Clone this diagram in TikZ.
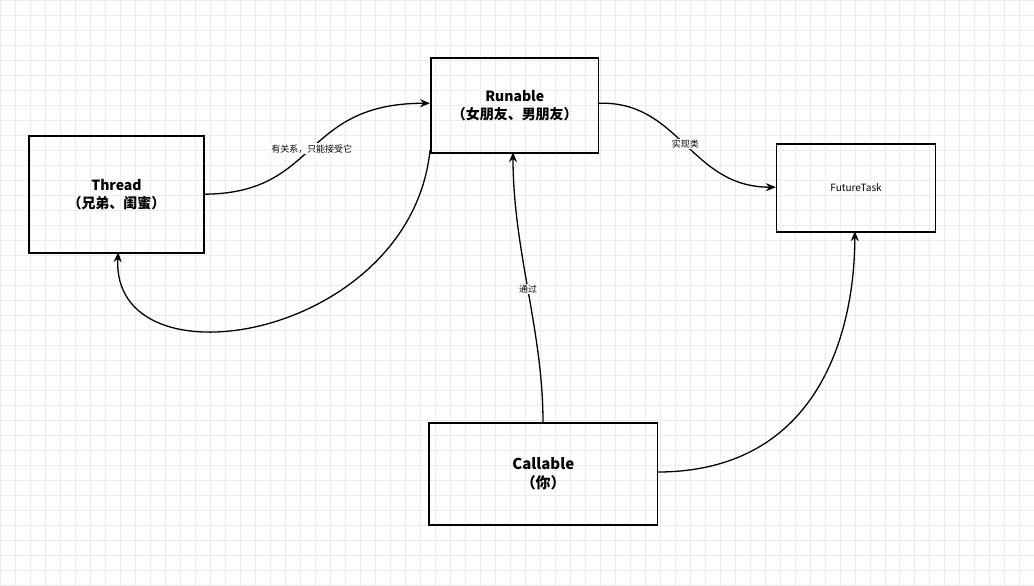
\documentclass[tikz,border=0pt]{standalone}
\usepackage{fontspec}
\setmainfont{Noto Sans CJK SC}
\usetikzlibrary{arrows.meta}
\begin{document}
\begin{tikzpicture}[x=1pt,y=-1pt,
  box/.style={draw,line width=1.5pt,inner sep=0,anchor=north west},
  conn/.style={line width=1.3pt,-{Stealth[length=10pt,width=8pt]}},
  lbl/.style={fill=white,font=\fontsize{9}{10}\selectfont,inner sep=1pt}]
\fill[white] (0,0) rectangle (1034,585);
\foreach \i in {0,15,...,1034} {\draw[black!8,line width=0.6pt] (\i,0) -- (\i,585);}
\foreach \j in {0,15,...,585} {\draw[black!8,line width=0.6pt] (0,\j) -- (1034,\j);}
\useasboundingbox (0,0) rectangle (1034,585);
\node[box,minimum width=175,minimum height=117,align=center,font=\bfseries\fontsize{14}{18}\selectfont] (thread) at (28,135) {Thread\\（兄弟、闺蜜）};
\node[box,minimum width=168,minimum height=95,align=center,font=\bfseries\fontsize{14}{18}\selectfont] (run) at (430,57) {Runable\\（女朋友、男朋友）};
\node[box,minimum width=159,minimum height=88,font=\fontsize{10}{12}\selectfont] (ft) at (776,143) {FutureTask};
\node[box,minimum width=229,minimum height=102,align=center,font=\bfseries\fontsize{15}{19}\selectfont] (call) at (428,422) {Callable\\（你）};
\coordinate (t1) at (203,194);
\coordinate (r1) at (430,103);
\coordinate (r2) at (430,150);
\coordinate (t2) at (118,252);
\coordinate (r3) at (598,103);
\coordinate (f1) at (776,187);
\coordinate (c1) at (543,422);
\coordinate (r4) at (513,152);
\coordinate (c2) at (657,472);
\coordinate (f2) at (855,231);
\draw[conn] (t1) .. controls (320,194) and (300,103) .. (r1) node[lbl,pos=0.5] {有关系，只能接受它};
\draw[conn] (r2) .. controls (410,340) and (110,390) .. (t2);
\draw[conn] (r3) .. controls (680,100) and (690,187) .. (f1) node[lbl,pos=0.5] {实现类};
\draw[conn] (c1) .. controls (543,330) and (513,250) .. (r4) node[lbl,pos=0.5] {通过};
\draw[conn] (c2) .. controls (820,472) and (855,330) .. (f2);
\end{tikzpicture}
\end{document}
